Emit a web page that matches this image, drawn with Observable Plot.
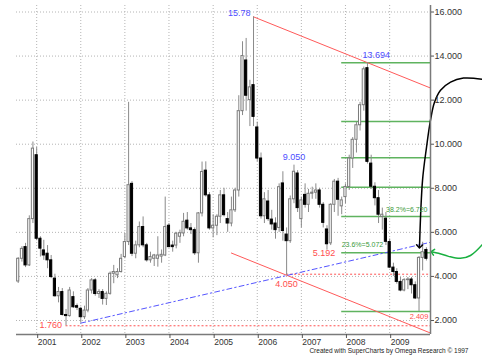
<!DOCTYPE html>
<html><head><meta charset="utf-8">
<script src="https://cdn.jsdelivr.net/npm/d3@7"></script>
<script src="https://cdn.jsdelivr.net/npm/@observablehq/plot@0.6"></script>
<style>body{margin:0;background:#fff;} svg{display:block}</style>
</head><body><div id="chart"></div>
<script>
// Monthly bars, Aug 2000 .. Nov 2009
const firstMonth = "2000-08-01";
const opens = [
  3.77,4.80,5.33,4.50,6.60,
  9.50,5.71,5.18,5.03,4.73,3.90,3.10,3.29,2.25,2.20,3.06,2.65,
  2.53,2.15,2.45,3.36,3.82,3.20,3.29,2.98,3.21,4.12,4.05,4.20,
  4.88,5.56,8.20,5.03,5.41,6.24,5.41,4.73,4.80,4.80,4.90,4.95,
  6.30,5.40,5.40,5.80,5.95,6.53,6.18,6.10,5.05,6.86,8.80,7.68,
  6.18,6.30,6.71,7.68,6.60,6.40,7.00,7.90,11.50,13.80,12.00,12.68,
  10.76,9.35,6.73,7.40,6.58,6.40,6.20,8.22,5.90,5.60,7.50,8.67,
  6.60,7.70,7.25,7.75,7.80,7.90,7.25,6.13,5.50,7.25,8.30,7.18,
  7.60,8.06,9.35,10.20,10.86,11.77,13.45,9.12,8.07,7.55,6.70,6.62,
  5.56,4.40,4.20,3.75,3.36,3.83,3.86,3.60,3.00,4.84,5.20
];
const highs = [
  4.85,5.35,5.50,6.75,10.10,
  9.85,5.80,5.64,5.40,4.95,4.10,3.50,3.45,2.50,3.50,3.30,2.75,
  2.60,2.65,3.45,3.90,3.90,3.40,3.40,3.30,4.20,4.50,4.35,5.00,
  5.94,11.90,8.30,5.60,6.47,6.70,5.50,5.10,5.00,5.80,5.20,7.60,
  6.40,5.60,6.00,6.10,6.86,6.90,6.40,6.20,6.90,9.19,9.20,7.80,
  6.80,6.80,7.90,8.00,6.90,7.60,8.00,12.20,14.65,14.80,12.90,15.78,
  11.00,9.60,7.80,7.90,7.00,6.66,8.20,8.75,6.20,7.65,9.05,8.80,
  7.60,8.20,7.95,8.05,8.20,8.00,7.35,6.30,7.30,8.40,8.45,7.60,
  8.20,9.50,10.30,11.00,11.90,13.50,13.694,9.50,8.25,7.90,7.10,6.90,
  5.70,4.60,4.35,3.95,3.90,3.95,3.95,3.75,4.90,5.55,5.30
];
const lows = [
  3.68,4.65,4.40,4.45,6.40,
  5.62,4.88,4.73,4.35,3.90,3.06,2.80,2.20,1.76,2.15,2.55,2.45,
  1.88,2.05,2.35,3.20,3.10,3.00,2.70,2.68,3.15,3.67,3.90,4.15,
  4.80,5.40,4.90,4.80,5.30,5.30,4.65,4.60,4.45,4.42,4.60,4.90,
  5.30,5.10,5.25,5.50,5.80,6.10,5.90,4.95,4.60,6.70,7.60,6.10,
  5.75,5.85,6.40,6.70,6.00,6.25,6.90,7.60,11.30,11.50,10.80,10.80,
  9.20,6.60,6.40,6.50,6.10,5.69,6.00,5.60,4.05,5.50,7.30,6.90,
  6.20,7.10,6.90,7.50,7.50,7.10,6.20,5.192,5.40,6.90,6.73,6.80,
  7.30,7.90,8.90,9.60,10.60,11.50,9.10,7.95,7.20,6.40,6.10,5.40,
  4.35,4.00,3.65,3.30,3.30,3.40,3.20,2.95,2.409,4.25,4.70
];
const closes = [
  4.80,5.25,4.50,6.60,9.80,
  5.71,5.26,4.95,4.73,3.97,3.10,3.29,2.25,2.20,3.36,2.60,2.58,
  2.15,2.45,3.36,3.82,3.20,3.29,2.98,3.21,4.12,4.20,4.20,4.80,
  5.56,8.14,5.03,5.41,6.24,5.41,4.73,4.88,4.95,4.95,4.98,6.24,
  5.33,5.33,5.94,5.96,6.48,6.18,6.10,5.05,6.86,8.74,7.68,6.18,
  6.30,6.71,7.68,6.78,6.40,7.00,7.90,11.50,14.00,12.20,12.58,11.24,
  9.35,6.73,7.50,6.60,6.36,6.10,8.05,6.06,5.60,7.50,8.75,7.10,
  7.45,7.25,7.75,7.80,7.90,7.25,6.43,5.46,7.25,8.30,7.48,7.45,
  8.06,9.35,10.20,10.86,11.77,13.40,9.20,8.07,7.55,6.80,6.80,5.57,
  4.40,4.20,3.75,3.36,3.83,3.86,3.60,3.00,4.84,5.10,4.80
];

const yearTicks = [2001,2002,2003,2004,2005,2006,2007,2008,2009];
const priceTicks = [2,4,6,8,10,12,14,16];

// drawn studies
const upperChannel = [["2005-12-01",15.78],["2009-12-05",12.55]];
const lowerChannel = [["2005-06-01",5.06],["2009-12-05",1.43]];
const blueTrend = [["2002-01-01",1.88],["2009-12-05",5.55]];
const supportLevels = [["2001-09-01",1.76],["2006-09-01",4.10]];
const fibStart = "2007-12-01";
const fibLevels = [2.409,5.072,6.720,8.052,9.383,11.030,13.694];
const blackArrow = [["2011-02-08",12.95],["2010-09-04",13.0],["2010-05-20",12.82],["2010-02-26",12.45],["2010-01-07",11.9],["2009-12-05",11.09],["2009-11-02",9.86],["2009-09-30",8.36],["2009-09-05",5.36]];
const greenArrow = [["2011-02-08",5.45],["2010-11-01",4.95],["2010-08-10",4.82],["2010-05-03",4.91],["2010-02-09",5.05],["2009-12-22",5.11]];

const labels = [
  {d:"2005-12-01", v:15.78, t:"15.78", c:"#4d4dff", a:"end", dx:-3, dy:-4, s:9},
  {d:"2008-07-01", v:13.694, t:"13.694", c:"#4d4dff", a:"start", dx:-5, dy:-7.5, s:9},
  {d:"2006-11-01", v:9.05, t:"9.050", c:"#4d4dff", a:"middle", dx:0, dy:-8.5, s:9},
  {d:"2007-08-01", v:5.192, t:"5.192", c:"#ff4d4d", a:"middle", dx:-3, dy:3, s:9},
  {d:"2006-09-01", v:4.05, t:"4.050", c:"#ff4d4d", a:"middle", dx:0, dy:9, s:9},
  {d:"2001-09-01", v:1.76, t:"1.760", c:"#ff4d4d", a:"end", dx:-4, dy:-1, s:9},
  {d:"2009-09-01", v:2.409, t:"2.409", c:"#ff4d4d", a:"middle", dx:0, dy:5, s:7.5},
  {d:"2009-12-05", v:6.72, t:"38.2%=6.720", c:"#3a9a3a", a:"end", dx:-3, dy:-7, s:7},
  {d:"2007-12-01", v:5.072, t:"23.6%=5.072", c:"#3a9a3a", a:"start", dx:0, dy:-8, s:7}
];
const credit = "Created with SuperCharts by Omega Research \u00A9 1997";

const months = d3.utcMonth.range(new Date(firstMonth), new Date("2009-12-01"));
const bars = months.map((date,i)=>({date, open:opens[i], high:highs[i], low:lows[i], close:closes[i]}));
const up = bars.filter(b=>b.close>=b.open);
const down = bars.filter(b=>b.close<b.open);
const P = a => a.map(([d,v])=>({date:new Date(d), v}));
const xStart = new Date("2000-07-18"), xEnd = new Date("2009-12-05");
const yMin = 1.364, yMax = 16.295;

const body = (data, fill, stroke) => Plot.rect(data, {
  x1: d=>d3.utcDay.offset(d.date,-9), x2: d=>d3.utcDay.offset(d.date,9),
  y1: "open", y2: "close", fill, stroke, strokeWidth: 1
});

const chart = Plot.plot({
  width: 482, height: 363,
  marginLeft: 16, marginRight: 52, marginTop: 5, marginBottom: 29,
  style: {fontFamily: "'Liberation Sans', Arial, sans-serif", fontSize: "9px", color: "#333", background: "white", overflow: "visible"},
  x: {type: "utc", domain: [xStart, xEnd]},
  y: {domain: [yMin, yMax]},
  marks: [
    Plot.ruleY(priceTicks, {stroke: "#b4b4b4", strokeDasharray: "1,2"}),
    Plot.ruleX(yearTicks.map(y=>new Date(Date.UTC(y,0,1))), {stroke: "#b4b4b4", strokeDasharray: "1,2"}),
    Plot.ruleY(fibLevels, {x1: new Date(fibStart), x2: xEnd, stroke: "#5fb35f", strokeWidth: 1.5}),
    Plot.ruleY(P(supportLevels), {y: "v", x1: "date", x2: xEnd, stroke: "#ff5050", strokeDasharray: "2,2"}),
    Plot.line(P(upperChannel), {x:"date", y:"v", stroke:"#ff5a5a", strokeWidth:1}),
    Plot.line(P(lowerChannel), {x:"date", y:"v", stroke:"#ff5a5a", strokeWidth:1}),
    Plot.line(P(blueTrend), {x:"date", y:"v", stroke:"#5555ff", strokeWidth:1, strokeDasharray:"5,3,1.5,3"}),
    Plot.ruleX(bars, {x:"date", y1:"low", y2:"high", stroke:"#8a8a8a", strokeWidth:1}),
    body(up, "white", "#7a7a7a"),
    body(down, "black", "black"),
    Plot.line(P(blackArrow), {x:"date", y:"v", curve:"catmull-rom", stroke:"black", strokeWidth:1.5, markerEnd:"arrow"}),
    Plot.line(P(greenArrow), {x:"date", y:"v", curve:"catmull-rom", stroke:"#19b040", strokeWidth:1.5, markerEnd:"arrow"}),
    ...labels.map(l => Plot.text([l], {x: d=>new Date(d.d), y: "v", text: "t", fill: l.c, textAnchor: l.a, dx: l.dx, dy: l.dy, fontSize: l.s})),
    Plot.ruleX([xEnd], {stroke: "#7a7a7a", strokeWidth: 1.5}),
    Plot.ruleY([yMin], {stroke: "#7a7a7a", strokeWidth: 1.5}),
    Plot.axisY({anchor: "right", ticks: priceTicks, tickFormat: d3.format(".3f"), tickSize: 3, tickPadding: 1, fontSize: 9, stroke: "#555"}),
    Plot.axisX({ticks: yearTicks.map(y=>new Date(Date.UTC(y,0,1))), tickFormat: d=>String(d.getUTCFullYear()), tickSize: 4, tickPadding: 0, textAnchor: "start", dx: 1, fontSize: 8.5, stroke: "#555"}),
    Plot.text([credit], {frameAnchor: "bottom-right", text: d=>d, dx: 38, dy: 18, fontSize: 6.5, fill: "#222", textAnchor: "end"})
  ]
});
document.getElementById("chart").append(chart);
</script>
</body></html>
